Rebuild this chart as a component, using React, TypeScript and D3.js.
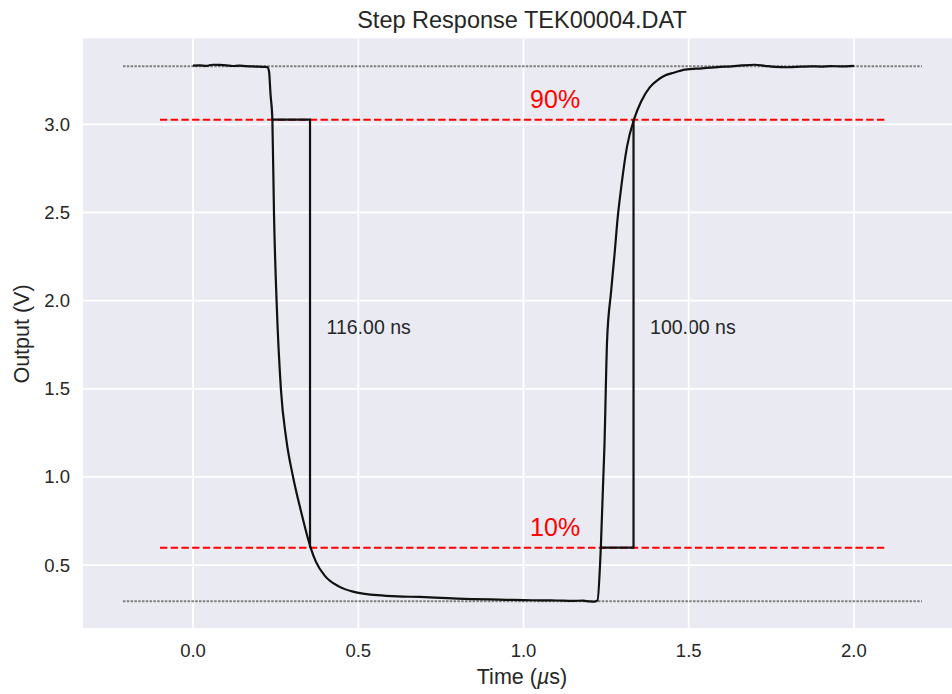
import React, { useRef, useEffect } from 'react';
import * as d3 from 'd3';

// waveform (time in µs, output in V)
const timeUs = [
  0.0, 0.02, 0.04, 0.06, 0.08, 0.1, 0.12, 0.14, 0.16, 0.18, 0.2, 0.215, 0.225,
  0.23, 0.2345, 0.24, 0.245, 0.253, 0.266, 0.282, 0.303, 0.325, 0.356, 0.372,
  0.399, 0.441, 0.484, 0.52, 0.558, 0.62, 0.686, 0.75, 0.8, 0.85, 0.9, 0.95,
  1.0, 1.05, 1.1, 1.15, 1.18, 1.2, 1.215, 1.224,
  1.234, 1.245, 1.253, 1.265, 1.276, 1.285, 1.295, 1.313, 1.335, 1.356, 1.382,
  1.405, 1.425, 1.455, 1.489, 1.54, 1.595, 1.63, 1.66, 1.7, 1.73, 1.76, 1.8,
  1.84, 1.87, 1.9, 1.93, 1.96, 2.0,
];
const outputV = [
  3.333, 3.334, 3.332, 3.338, 3.337, 3.335, 3.331, 3.333, 3.33, 3.329, 3.327, 3.326, 3.325,
  3.3, 3.17, 3.03, 2.49, 1.99, 1.495, 1.216, 0.997, 0.818, 0.598, 0.518,
  0.439, 0.379, 0.349, 0.337, 0.329, 0.322, 0.319, 0.314, 0.31, 0.307, 0.305, 0.303,
  0.301, 0.3, 0.299, 0.297, 0.298, 0.294, 0.293, 0.3,
  0.598, 1.176, 1.774, 2.05, 2.273, 2.47, 2.632, 2.871, 3.031, 3.13, 3.21,
  3.25, 3.274, 3.293, 3.31, 3.318, 3.326, 3.329, 3.334, 3.338, 3.332, 3.326, 3.324,
  3.327, 3.329, 3.328, 3.33, 3.329, 3.332,
];

const levelLow = 0.295;
const levelHigh = 3.33;
const level10 = 0.5985;
const level90 = 3.0265;

// rise/fall markers: [start, end] crossing times in µs
const fallTimes = [0.238, 0.354];
const riseTimes = [1.233, 1.333];
const markerLabels = ['116.00 ns', '100.00 ns'];

const xTicks = [0.0, 0.5, 1.0, 1.5, 2.0];
const yTicks = [0.5, 1.0, 1.5, 2.0, 2.5, 3.0];

const FONT = '"Liberation Sans", Arial, sans-serif';

const App = () => {
  const svgRef = useRef(null);
  const width = 952;
  const height = 694;

  useEffect(() => {
    const svg = d3.select(svgRef.current);
    svg.selectAll('*').remove();

    const x = d3.scaleLinear().domain([-0.333, 2.327]).range([83, 962]);
    const y = d3.scaleLinear().domain([0.143, 3.487]).range([628, 38.5]);

    // axes background
    svg.append('rect')
      .attr('x', 83)
      .attr('y', 38.5)
      .attr('width', 962 - 83)
      .attr('height', 628 - 38.5)
      .attr('fill', '#eaeaf2');

    // rise / fall time labels (they sit under the grid in the original)
    const labelY = (level10 + level90) / 2;
    [fallTimes[1], riseTimes[1]].forEach((t, i) => {
      svg.append('text')
        .attr('x', x(t + 0.05))
        .attr('y', y(labelY))
        .attr('font-family', FONT)
        .attr('font-size', 19.5)
        .attr('fill', '#262626')
        .text(markerLabels[i]);
    });

    // grid
    svg.append('g')
      .selectAll('line')
      .data(xTicks)
      .enter()
      .append('line')
      .attr('x1', d => x(d))
      .attr('x2', d => x(d))
      .attr('y1', 38.5)
      .attr('y2', 628)
      .attr('stroke', '#fff')
      .attr('stroke-width', 1.8);

    svg.append('g')
      .selectAll('line')
      .data(yTicks)
      .enter()
      .append('line')
      .attr('x1', 83)
      .attr('x2', 962)
      .attr('y1', d => y(d))
      .attr('y2', d => y(d))
      .attr('stroke', '#fff')
      .attr('stroke-width', 1.8);

    // low / high reference levels
    [levelLow, levelHigh].forEach(v => {
      svg.append('line')
        .attr('x1', x(-0.212))
        .attr('x2', x(2.206))
        .attr('y1', y(v))
        .attr('y2', y(v))
        .attr('stroke', '#808080')
        .attr('stroke-width', 2)
        .attr('stroke-dasharray', '2.5,1.3');
    });

    // 10% / 90% levels
    [level10, level90].forEach(v => {
      svg.append('line')
        .attr('x1', x(-0.1))
        .attr('x2', x(2.1))
        .attr('y1', y(v))
        .attr('y2', y(v))
        .attr('stroke', '#ff0000')
        .attr('stroke-width', 2)
        .attr('stroke-dasharray', '7.4,3.3');
    });

    // waveform
    const line = d3.line()
      .x(d => x(d[0]))
      .y(d => y(d[1]));

    const smooth = d3.line()
      .x(d => x(d[0]))
      .y(d => y(d[1]))
      .curve(d3.curveMonotoneX);

    svg.append('path')
      .datum(timeUs.map((t, i) => [t, outputV[i]]))
      .attr('d', smooth)
      .attr('fill', 'none')
      .attr('stroke', '#111')
      .attr('stroke-width', 2.2)
      .attr('stroke-linejoin', 'round');

    // fall marker: along 90% then down to 10%
    svg.append('path')
      .datum([[fallTimes[0], level90], [fallTimes[1], level90], [fallTimes[1], level10]])
      .attr('d', line)
      .attr('fill', 'none')
      .attr('stroke', '#111')
      .attr('stroke-width', 2.2);

    // rise marker: along 10% then up to 90%
    svg.append('path')
      .datum([[riseTimes[0], level10], [riseTimes[1], level10], [riseTimes[1], level90]])
      .attr('d', line)
      .attr('fill', 'none')
      .attr('stroke', '#111')
      .attr('stroke-width', 2.2);

    // percent labels
    [['90%', level90], ['10%', level10]].forEach(([txt, v]) => {
      svg.append('text')
        .attr('x', x(1.02))
        .attr('y', y(v + 0.065))
        .attr('font-family', FONT)
        .attr('font-size', 25)
        .attr('fill', '#ff0000')
        .text(txt);
    });

    // tick labels
    svg.append('g')
      .selectAll('text')
      .data(xTicks)
      .enter()
      .append('text')
      .attr('x', d => x(d))
      .attr('y', 657)
      .attr('text-anchor', 'middle')
      .attr('font-family', FONT)
      .attr('font-size', 18.5)
      .attr('fill', '#262626')
      .text(d => d3.format('.1f')(d));

    svg.append('g')
      .selectAll('text')
      .data(yTicks)
      .enter()
      .append('text')
      .attr('x', 70)
      .attr('y', d => y(d))
      .attr('dy', '0.35em')
      .attr('text-anchor', 'end')
      .attr('font-family', FONT)
      .attr('font-size', 18.5)
      .attr('fill', '#262626')
      .text(d => d3.format('.1f')(d));

    // axis labels and title
    const xl = svg.append('text')
      .attr('x', 522)
      .attr('y', 684)
      .attr('text-anchor', 'middle')
      .attr('font-family', FONT)
      .attr('font-size', 21.5)
      .attr('fill', '#262626');
    xl.append('tspan').text('Time (');
    xl.append('tspan').attr('font-style', 'italic').text('µ');
    xl.append('tspan').text('s)');

    svg.append('text')
      .attr('transform', 'translate(29, 334) rotate(-90)')
      .attr('text-anchor', 'middle')
      .attr('font-family', FONT)
      .attr('font-size', 21.5)
      .attr('fill', '#262626')
      .text('Output (V)');

    svg.append('text')
      .attr('x', 522)
      .attr('y', 28)
      .attr('text-anchor', 'middle')
      .attr('font-family', FONT)
      .attr('font-size', 23.5)
      .attr('fill', '#262626')
      .text('Step Response TEK00004.DAT');
  }, []);

  return (
    <svg
      ref={svgRef}
      width={width}
      height={height}
      style={{ position: 'absolute', left: 0, top: 0, background: '#fff' }}
    />
  );
};

export default App;
